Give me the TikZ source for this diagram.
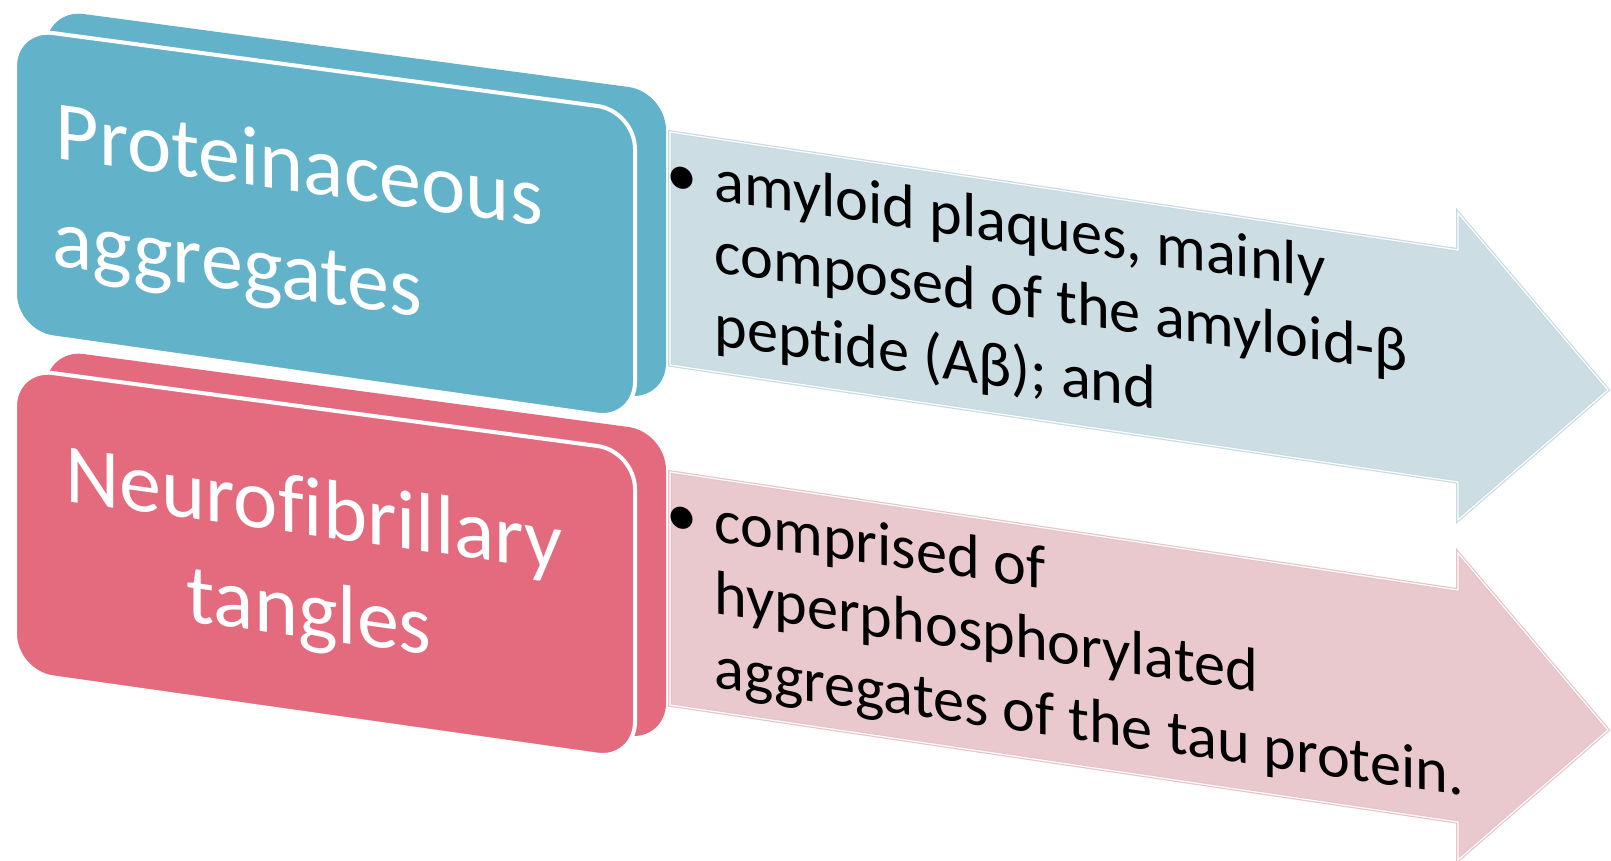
\documentclass[tikz,border=0pt]{standalone}
\usepackage{fontspec}
\setmainfont[Ligatures=NoCommon]{Carlito}
\definecolor{boxblue}{HTML}{62B2CA}
\definecolor{boxpink}{HTML}{E46B7D}
\definecolor{arrblue}{HTML}{CCDDE4}
\definecolor{arrpink}{HTML}{E9C9CE}
\definecolor{edgeblue}{HTML}{C6DAE2}
\definecolor{edgepink}{HTML}{E7C3C9}
\begin{document}
\begin{tikzpicture}[x=0.01cm,y=-0.01cm,
  backface/.style={fill=#1, draw=none, rounded corners=0.38cm},
  frontface/.style={fill=#1, draw=white, line width=0.04cm, rounded corners=0.38cm},
  arrowshape/.style 2 args={fill=#1, draw=#2, double=white, double distance=0.012cm, line width=0.012cm, line join=miter},
  boxtext/.style={text=white, font=\fontsize{23.9}{28}\selectfont, inner sep=0pt, anchor=base west, yslant=-0.14},
  bultext/.style={text=black, font=\fontsize{17.7}{20}\selectfont, inner sep=0pt, anchor=base west, yslant=-0.145}]
\useasboundingbox (0,0) rectangle (1611,861);
% arrows
\draw[arrowshape={arrblue}{edgeblue}] (670,132) -- (1458,250) -- (1458,213) -- (1608,390) -- (1458,520) -- (1458,482) -- (670,365) -- cycle;
\draw[arrowshape={arrpink}{edgepink}] (670,472) -- (1458,590) -- (1458,553) -- (1608,730) -- (1458,860) -- (1458,822) -- (670,705) -- cycle;
% blue box
\fill[backface=boxblue] (46,9) -- (666,92) -- (666,401) -- (46,313) -- cycle;
\draw[frontface=boxblue] (15,28) -- (635,111) -- (635,420) -- (15,332) -- cycle;
% pink box
\fill[backface=boxpink] (46,349) -- (666,432) -- (666,741) -- (46,653) -- cycle;
\draw[frontface=boxpink] (15,368) -- (635,451) -- (635,760) -- (15,672) -- cycle;
% box texts
\node[boxtext] (p1) at (55,158) {Proteinaceous};
\node[boxtext] (p2) at (52,265) {aggregates};
\node[boxtext] (n1) at (65,501) {Neurofibrillary};
\node[boxtext] (n2) at (186,621) {tangles};
% bullet texts
\node[bultext] (b1) at (666,193) {•};
\node[bultext] (a1) at (714,200) {amyloid plaques, mainly};
\node[bultext] (a2) at (714,272) {composed of the amyloid-β};
\node[bultext] (a3) at (714,345) {peptide (Aβ); and};
\node[bultext] (b2) at (666,533) {•};
\node[bultext] (c1) at (714,541) {comprised of};
\node[bultext] (c2) at (714,613) {hyperphosphorylated};
\node[bultext] (c3) at (714,687) {aggregates of the tau protein.};
\end{tikzpicture}
\end{document}
